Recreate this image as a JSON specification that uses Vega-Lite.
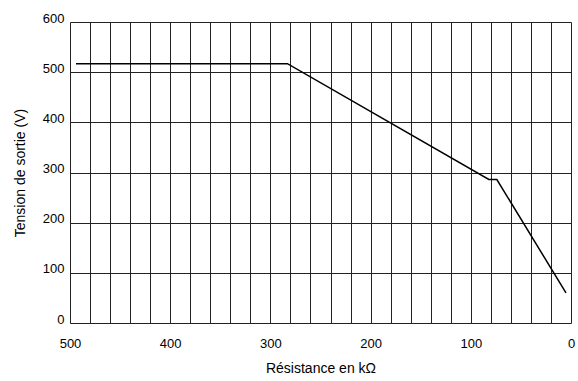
{
  "$schema": "https://vega.github.io/schema/vega-lite/v6.json",
  "width": 501,
  "height": 301,
  "autosize": "none",
  "padding": {"left": 70, "top": 22, "right": 7, "bottom": 58},
  "background": "white",
  "config": {
    "font": "Liberation Sans",
    "view": {"stroke": null},
    "axis": {"labelFont": "Liberation Sans", "titleFont": "Liberation Sans", "labelFontSize": 13, "titleFontSize": 14, "titleFontWeight": "normal", "labelColor": "#000", "titleColor": "#000", "gridColor": "#222", "gridOpacity": 1, "gridWidth": 1, "ticks": false, "domain": false}
  },
  "data": {"values": [
    {"r": 494, "v": 517},
    {"r": 283, "v": 517},
    {"r": 82, "v": 286},
    {"r": 74, "v": 286},
    {"r": 5, "v": 60}
  ]},
  "mark": {"type": "line", "color": "#000", "strokeWidth": 1.5},
  "encoding": {
    "x": {
      "field": "r", "type": "quantitative",
      "scale": {"domain": [500, 0], "nice": false, "zero": false},
      "axis": {
        "title": "Résistance en kΩ",
        "values": [0,20,40,60,80,100,120,140,160,180,200,220,240,260,280,300,320,340,360,380,400,420,440,460,480,500],
        "labelExpr": "datum.value % 100 == 0 ? datum.label : ''",
        "labelPadding": 14,
        "labelFlush": false,
        "labelOverlap": false,
        "titlePadding": 11
      }
    },
    "y": {
      "field": "v", "type": "quantitative",
      "scale": {"domain": [0, 600], "nice": false},
      "axis": {
        "title": "Tension de sortie (V)",
        "values": [0,100,200,300,400,500,600],
        "labelBaseline": "alphabetic",
        "labelPadding": 6,
        "titlePadding": 15
      }
    }
  }
}
